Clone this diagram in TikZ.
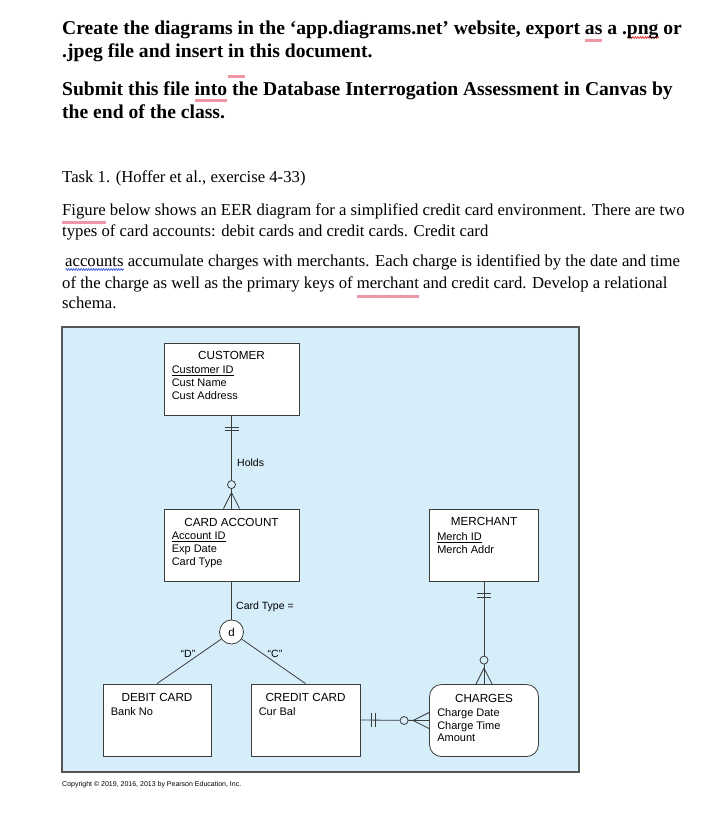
\documentclass[tikz,border=0pt]{standalone}
\usepackage{fontspec}
\setmainfont{Liberation Serif}
\setsansfont{Liberation Sans}
\usetikzlibrary{calc,positioning,decorations.pathmorphing}
\definecolor{erbg}{RGB}{214,238,250}
\definecolor{erframe}{RGB}{85,85,85}
\definecolor{erline}{RGB}{60,60,60}
\definecolor{spellpink}{RGB}{240,150,165}
\definecolor{spellred}{RGB}{225,40,40}
\definecolor{spellblue}{RGB}{60,90,225}
% word-processor spelling marks under single words
\newcommand\spellul[2][-8.5pt]{\setbox0\hbox{#2}\rlap{\color{spellpink}\rule[#1]{\wd0}{3pt}}\box0\relax}
\newcommand\spellwave[2]{\setbox0\hbox{#2}\rlap{\tikz[baseline=0pt]\draw[#1, line width=0.7pt, decorate,
  decoration={zigzag, segment length=2.5pt, amplitude=0.9pt}] (0pt,-3.5pt) -- (\wd0,-3.5pt);}\box0\relax}
\tikzset{
  head/.style={anchor=base west, inner sep=0pt, font=\fontsize{19.6}{22}\selectfont\bfseries},
  body/.style={anchor=base west, inner sep=0pt, font=\fontsize{16.7}{19}\selectfont},
  erbox/.style={draw=erline, line width=0.8pt, fill=white, minimum height=72pt, inner sep=0pt},
  ertitle/.style={anchor=base, inner sep=0pt, font=\fontsize{11.7}{13}\sffamily},
  erattr/.style={anchor=base west, inner sep=0pt, font=\fontsize{11}{13}\sffamily},
  erlbl/.style={anchor=base west, inner sep=0pt, font=\fontsize{10.5}{12}\sffamily},
  rel/.style={draw=erline, line width=0.8pt},
  subtype/.style={circle, draw=erline, line width=0.8pt, fill=white, minimum size=24pt,
    inner sep=0pt, font=\fontsize{11.5}{13}\sffamily}
}
\begin{document}
\begin{tikzpicture}[x=1pt, y=-1pt]
  \useasboundingbox (0,0) rectangle (718,835);
  \fill[white] (0,0) rectangle (718,835);

  % instructions
  \node[head] (h1) at (62,34)
    {Create the diagrams in the ‘app.diagrams.net’ website, export \spellul[-8pt]{as} a .\spellwave{spellred}{png} or};
  \node[head] (h2) at (62,57) {.jpeg file and insert \spellul[-21pt]{in} this document.};
  \node[head] (h3) at (62,95)
    {Submit this file \spellul[-7pt]{into} the Database Interrogation Assessment in Canvas by};
  \node[head] (h4) at (62,118) {the end of the class.};

  % task text
  \node[body] (b1) at (62,182) {Task 1. (Hoffer et al., exercise 4-33)};
  \node[body] (b2) at (62,215)
    {\spellul[-9pt]{Figure} below shows an EER diagram for a simplified credit card environment. There are two};
  \node[body] (b3) at (62,236) {types of card accounts: debit cards and credit cards. Credit card};
  \node[body] (b4) at (65,266)
    {\spellwave{spellblue}{accounts} accumulate charges with merchants. Each charge is identified by the date and time};
  \node[body] (b5) at (62,288)
    {of the charge as well as the primary keys of \spellul[-10pt]{merchant} and credit card. Develop a relational};
  \node[body] (b6) at (62,308) {schema.};

  % figure panel
  \draw[draw=erframe, fill=erbg, line width=1.3pt] (62,327) rectangle (579,772);

  % entities
  \node[erbox, minimum width=135pt] (cust) at (231.5,379) {};
  \node[ertitle] (cust-t) at ($(cust.north)+(0,17)$) {CUSTOMER};
  \foreach \a [count=\i] in {\underline{Customer ID}, Cust Name, Cust Address}
    \node[erattr] (cust-\i) at ($(cust.north west)+(8,18.5+12.8*\i)$) {\a};

  \node[erbox, minimum width=135pt] (card) at (231.5,545) {};
  \node[ertitle] (card-t) at ($(card.north)+(0,17.5)$) {CARD ACCOUNT};
  \foreach \a [count=\i] in {\underline{Account ID}, Exp Date, Card Type}
    \node[erattr] (card-\i) at ($(card.north west)+(8,18.5+12.8*\i)$) {\a};

  \node[erbox, minimum width=109pt] (merch) at (484,545.5) {};
  \node[ertitle] (merch-t) at ($(merch.north)+(0,16.5)$) {MERCHANT};
  \foreach \a [count=\i] in {\underline{Merch ID}, Merch Addr}
    \node[erattr] (merch-\i) at ($(merch.north west)+(8,18.5+12.8*\i)$) {\a};

  \node[erbox, minimum width=108pt] (debit) at (157,720) {};
  \node[ertitle] (debit-t) at ($(debit.north)+(0,18)$) {DEBIT CARD};
  \node[erattr] (debit-1) at ($(debit.north west)+(8,32)$) {Bank No};

  \node[erbox, minimum width=109pt] (credit) at (305.5,720) {};
  \node[ertitle] (credit-t) at ($(credit.north)+(0,18)$) {CREDIT CARD};
  \node[erattr] (credit-1) at ($(credit.north west)+(8,32)$) {Cur Bal};

  \node[erbox, minimum width=109pt, rounded corners=12pt] (chg) at (484,720.5) {};
  \node[ertitle] (chg-t) at ($(chg.north)+(0,18)$) {CHARGES};
  \foreach \a [count=\i] in {Charge Date, Charge Time, Amount}
    \node[erattr] (chg-\i) at ($(chg.north west)+(8,20+12.6*\i)$) {\a};

  % Holds
  \draw[rel] (cust.south) -- (card.north);
  \draw[rel] ($(cust.south)+(-7,12)$) -- ++(14,0) ($(cust.south)+(-7,15)$) -- ++(14,0);
  \draw[rel, fill=erbg] ($(card.north)+(0,-24)$) circle (4);
  \draw[rel] ($(card.north)+(-8,0)$) -- ($(card.north)+(0,-16)$) -- ($(card.north)+(8,0)$);
  \node[erlbl] (holds) at (237,466) {Holds};

  % merchant to charges
  \draw[rel] (merch.south) -- (chg.north);
  \draw[rel] ($(merch.south)+(-7,11)$) -- ++(14,0) ($(merch.south)+(-7,15)$) -- ++(14,0);
  \draw[rel, fill=erbg] ($(chg.north)+(0,-24)$) circle (4);
  \draw[rel] ($(chg.north)+(-8,0)$) -- ($(chg.north)+(0,-16)$) -- ($(chg.north)+(8,0)$);

  % credit card to charges
  \draw[rel] (credit.east) -- (chg.west);
  \draw[rel] ($(credit.east)+(11,-7)$) -- ++(0,14) ($(credit.east)+(14.5,-7)$) -- ++(0,14);
  \draw[rel, fill=erbg] ($(chg.west)+(-25,0)$) circle (4);
  \draw[rel] ($(chg.west)+(0,-8)$) -- ($(chg.west)+(-16,0)$) -- ($(chg.west)+(0,8)$);

  % subtypes
  \node[subtype] (dis) at (231.5,632) {d};
  \draw[rel] (card.south) -- (dis);
  \draw[rel] (dis) -- (debit.north);
  \draw[rel] (dis) -- (credit.north);
  \node[erlbl] (ctype) at (236,609) {Card Type =};
  \node[erlbl, anchor=base] (dq) at (188,657) {“D”};
  \node[erlbl, anchor=base] (cq) at (275,657) {“C”};

  \node[anchor=base west, inner sep=0pt, font=\fontsize{7}{8}\sffamily] (copy) at (62,786)
    {Copyright © 2019, 2016, 2013 by Pearson Education, Inc.};
\end{tikzpicture}
\end{document}
